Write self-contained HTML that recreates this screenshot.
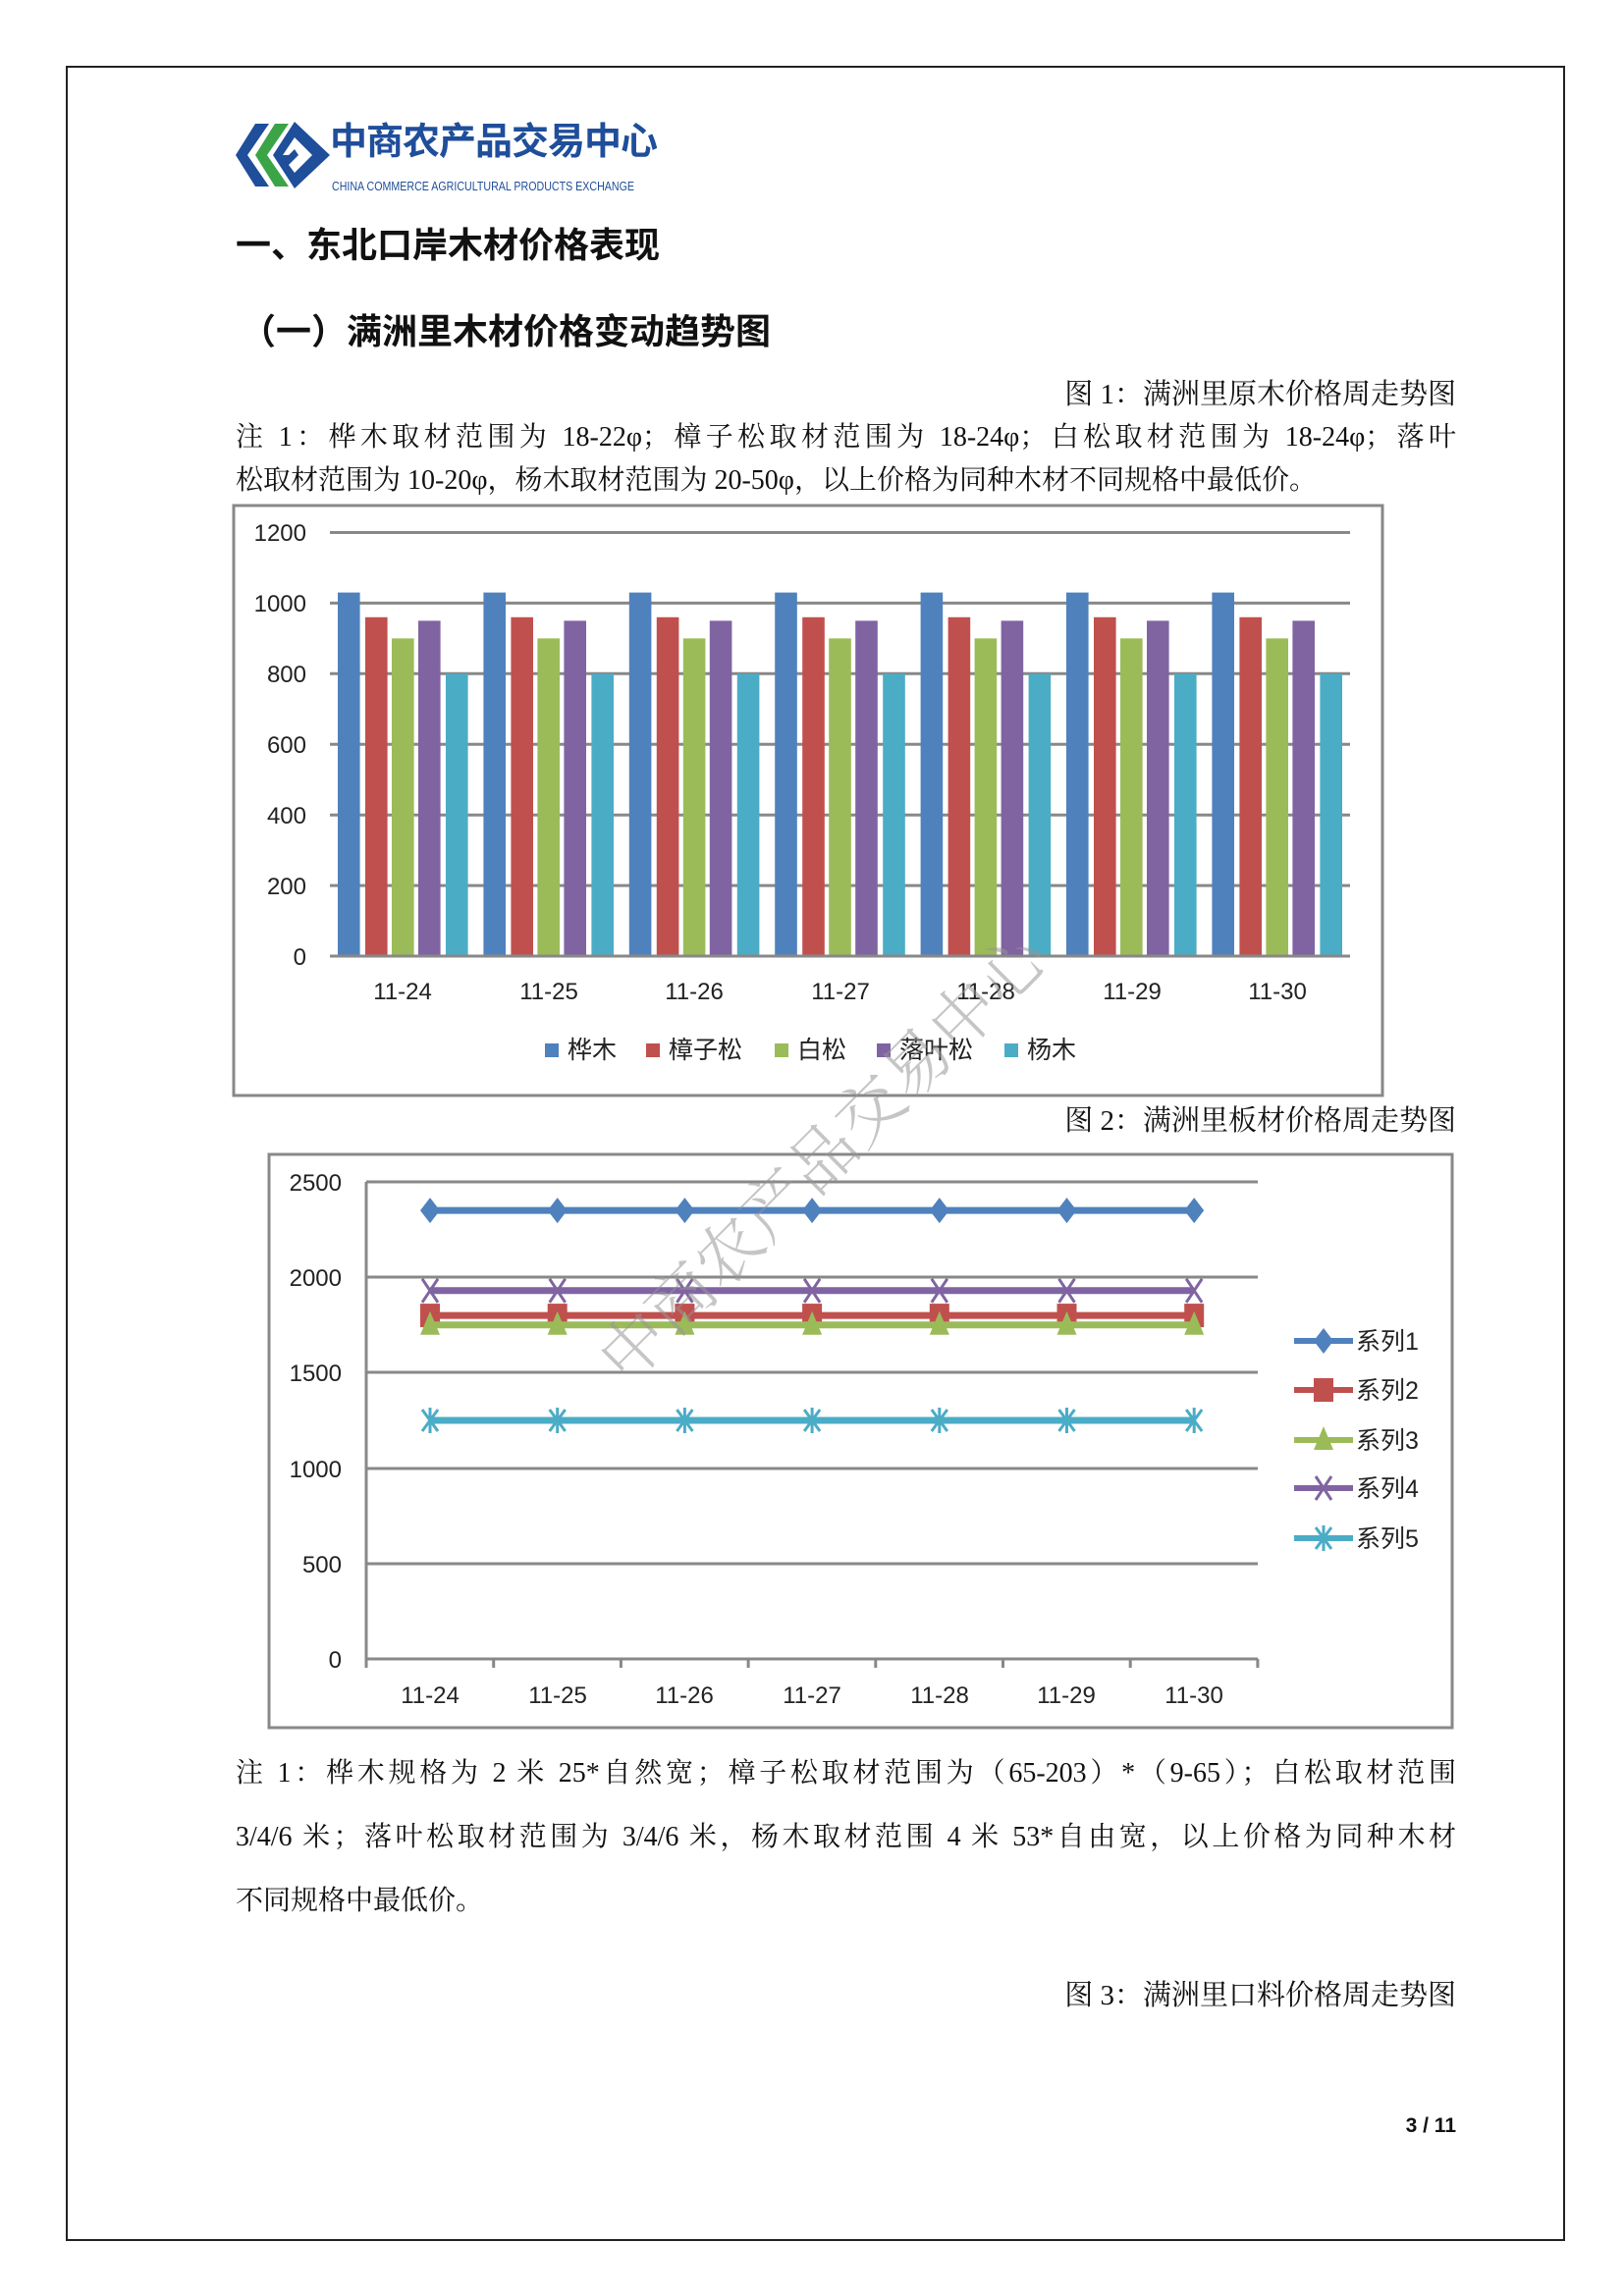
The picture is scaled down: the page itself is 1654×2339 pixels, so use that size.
<!DOCTYPE html>
<html><head><meta charset="utf-8"><style>
body{margin:0;background:#fff;}
#p{position:relative;width:1654px;height:2339px;overflow:hidden;background:#fff;font-family:"Liberation Serif","Noto Serif CJK SC",serif;color:#111;}
.t{position:absolute;white-space:nowrap;line-height:1;}
.j{position:absolute;left:240px;width:1243px;font-size:28px;line-height:1;text-align:justify;text-align-last:justify;white-space:nowrap;}
.h{font-family:"Liberation Sans","Noto Sans CJK SC",sans-serif;font-weight:bold;font-size:36px;}
.cap{right:171px;font-size:29px;}
</style></head><body><div id="p">
<div style="position:absolute;left:67px;top:67px;width:1523px;height:2212px;border:2px solid #222;"></div>

<!-- logo -->
<svg style="position:absolute;left:238px;top:118px" width="100" height="80" viewBox="0 0 100 80">
<polygon points="22,8 36,8 14,40 36,72 22,72 2,40" fill="#1f4e9a"/>
<polygon points="42,8 56,8 34,40 56,72 42,72 22,40" fill="#3aa447"/>
<polygon points="62,6 98,40 62,74 40,40" fill="#1f4e9a"/>
<polygon points="62,22 80,40 62,58 56,50 66,40 62,34 56,40 50,40" fill="#fff"/>
</svg>
<div class="t" style="left:336px;top:126px;font-family:'Liberation Sans','Noto Sans CJK SC',sans-serif;font-weight:bold;font-size:38px;color:#1f4e9a;letter-spacing:-1px">中商农产品交易中心</div>
<div class="t" style="left:338px;top:183px;font-family:'Liberation Sans',sans-serif;font-size:13px;color:#1f4e9a;transform:scaleX(0.82);transform-origin:left">CHINA COMMERCE AGRICULTURAL PRODUCTS EXCHANGE</div>

<div class="t h" style="left:240px;top:232px;">一、东北口岸木材价格表现</div>
<div class="t h" style="left:245px;top:320px;">（一）满洲里木材价格变动趋势图</div>
<div class="t cap" style="top:388px;">图 1：满洲里原木价格周走势图</div>
<div class="j" style="top:432px;">注 1：桦木取材范围为 18-22φ；樟子松取材范围为 18-24φ；白松取材范围为 18-24φ；落叶</div>
<div class="t" style="left:240px;top:476px;font-size:28px;">松取材范围为 10-20φ，杨木取材范围为 20-50φ，以上价格为同种木材不同规格中最低价。</div>

<svg style="position:absolute;left:0;top:0" width="1654" height="2339" font-family="Liberation Sans, Noto Sans CJK SC, sans-serif">
<rect x="238" y="515" width="1170" height="601" fill="none" stroke="#888" stroke-width="3"/>
<g stroke="#888" stroke-width="3">
<line x1="336" x2="1375" y1="542.5" y2="542.5"/><line x1="336" x2="1375" y1="614.4" y2="614.4"/>
<line x1="336" x2="1375" y1="686.3" y2="686.3"/><line x1="336" x2="1375" y1="758.3" y2="758.3"/>
<line x1="336" x2="1375" y1="830.2" y2="830.2"/><line x1="336" x2="1375" y1="902.1" y2="902.1"/>
</g>
<g id="bars"></g>
<line x1="336" x2="1375" y1="974" y2="974" stroke="#888" stroke-width="3"/>
<g font-size="24" fill="#222" text-anchor="end">
<text x="312" y="551">1200</text><text x="312" y="623">1000</text><text x="312" y="695">800</text>
<text x="312" y="767">600</text><text x="312" y="839">400</text><text x="312" y="911">200</text><text x="312" y="983">0</text>
</g>
<g font-size="24" fill="#222" text-anchor="middle">
<text x="410" y="1018">11-24</text><text x="559" y="1018">11-25</text><text x="707" y="1018">11-26</text>
<text x="856" y="1018">11-27</text><text x="1004" y="1018">11-28</text><text x="1153" y="1018">11-29</text><text x="1301" y="1018">11-30</text>
</g>
<g font-size="25" fill="#222">
<rect x="555" y="1063" width="14" height="14" fill="#4f81bd"/><text x="578" y="1078">桦木</text>
<rect x="658" y="1063" width="14" height="14" fill="#c0504d"/><text x="681" y="1078">樟子松</text>
<rect x="789" y="1063" width="14" height="14" fill="#9bbb59"/><text x="812" y="1078">白松</text>
<rect x="893" y="1063" width="14" height="14" fill="#8064a2"/><text x="916" y="1078">落叶松</text>
<rect x="1023" y="1063" width="14" height="14" fill="#4bacc6"/><text x="1046" y="1078">杨木</text>
</g>

<rect x="274" y="1176" width="1205" height="584" fill="none" stroke="#888" stroke-width="3"/>
<g stroke="#888" stroke-width="3">
<line x1="373" x2="1281" y1="1204" y2="1204"/><line x1="373" x2="1281" y1="1301" y2="1301"/>
<line x1="373" x2="1281" y1="1398" y2="1398"/><line x1="373" x2="1281" y1="1496" y2="1496"/>
<line x1="373" x2="1281" y1="1593" y2="1593"/><line x1="373" x2="1281" y1="1690" y2="1690"/>
<line x1="373" x2="373" y1="1204" y2="1698"/>
</g>
<g id="ticks" stroke="#888" stroke-width="3"></g>
<g font-size="24" fill="#222" text-anchor="end">
<text x="348" y="1213">2500</text><text x="348" y="1310">2000</text><text x="348" y="1407">1500</text>
<text x="348" y="1505">1000</text><text x="348" y="1602">500</text><text x="348" y="1699">0</text>
</g>
<g font-size="24" fill="#222" text-anchor="middle">
<text x="438" y="1735">11-24</text><text x="568" y="1735">11-25</text><text x="697" y="1735">11-26</text>
<text x="827" y="1735">11-27</text><text x="957" y="1735">11-28</text><text x="1086" y="1735">11-29</text><text x="1216" y="1735">11-30</text>
</g>
<g id="lines"></g>
<g id="leg" font-size="25" fill="#222"></g>
</svg>

<div class="t cap" style="top:1128px;">图 2：满洲里板材价格周走势图</div>
<div class="j" style="top:1793px;">注 1：桦木规格为 2 米 25*自然宽；樟子松取材范围为（65-203）*（9-65）；白松取材范围</div>
<div class="j" style="top:1858px;">3/4/6 米；落叶松取材范围为 3/4/6 米，杨木取材范围 4 米 53*自由宽，以上价格为同种木材</div>
<div class="t" style="left:240px;top:1923px;font-size:28px;">不同规格中最低价。</div>
<div class="t cap" style="top:2019px;">图 3：满洲里口料价格周走势图</div>
<div class="t" style="right:171px;top:2155px;font-size:21px;font-weight:bold;font-family:'Liberation Sans',sans-serif;">3 / 11</div>

<div class="t" style="left:835px;top:1176px;transform:translate(-50%,-50%) rotate(-45deg);font-size:68px;color:rgba(150,150,150,0.55);font-family:'Noto Serif CJK SC',serif;font-weight:300;">中商农产品交易中心</div>

<script>
var ns="http://www.w3.org/2000/svg";
function el(p,n,a){var e=document.createElementNS(ns,n);for(var k in a)e.setAttribute(k,a[k]);p.appendChild(e);return e;}
var b=document.getElementById("bars");
var cols=["#4f81bd","#c0504d","#9bbb59","#8064a2","#4bacc6"],vals=[1030,960,900,950,800],offs=[8,36,63,90,118];
for(var g=0;g<7;g++)for(var s=0;s<5;s++){var y=974-vals[s]*0.3596;el(b,"rect",{x:336+g*148.4+offs[s],y:y,width:22.6,height:974-y,fill:cols[s]});}
var t=document.getElementById("ticks");
for(var i=0;i<=7;i++){var x=373+i*129.7;el(t,"line",{x1:x,x2:x,y1:1690,y2:1699});}
var L=document.getElementById("lines"),vv=[2350,1800,1750,1930,1250];
function mk(p,s,x,y){var c=cols[s];
 if(s==0)el(p,"polygon",{points:(x)+","+(y-13)+" "+(x+10)+","+y+" "+x+","+(y+13)+" "+(x-10)+","+y,fill:c});
 else if(s==1)el(p,"rect",{x:x-10,y:y-12,width:20,height:24,fill:c});
 else if(s==2)el(p,"polygon",{points:x+","+(y-14)+" "+(x+10)+","+(y+10)+" "+(x-10)+","+(y+10),fill:c});
 else if(s==3){el(p,"path",{d:"M"+(x-8)+" "+(y-12)+"L"+(x+8)+" "+(y+12)+"M"+(x+8)+" "+(y-12)+"L"+(x-8)+" "+(y+12),stroke:c,"stroke-width":3});}
 else {el(p,"path",{d:"M"+(x-8)+" "+(y-11)+"L"+(x+8)+" "+(y+11)+"M"+(x+8)+" "+(y-11)+"L"+(x-8)+" "+(y+11)+"M"+x+" "+(y-13)+"L"+x+" "+(y+13),stroke:c,"stroke-width":3});}
}
for(var s=0;s<5;s++){var y=1690-vv[s]*0.1944;el(L,"line",{x1:438,x2:1216,y1:y,y2:y,stroke:cols[s],"stroke-width":7});
 for(var i=0;i<7;i++)mk(L,s,438+i*129.7,y);}
var lg=document.getElementById("leg"),ly=[1366,1416,1467,1516,1567];
for(var s=0;s<5;s++){el(lg,"line",{x1:1318,x2:1378,y1:ly[s],y2:ly[s],stroke:cols[s],"stroke-width":6});mk(lg,s,1348,ly[s]);
 var tx=el(lg,"text",{x:1381,y:ly[s]+9});tx.textContent="系列"+(s+1);}
</script>
</div></body></html>
